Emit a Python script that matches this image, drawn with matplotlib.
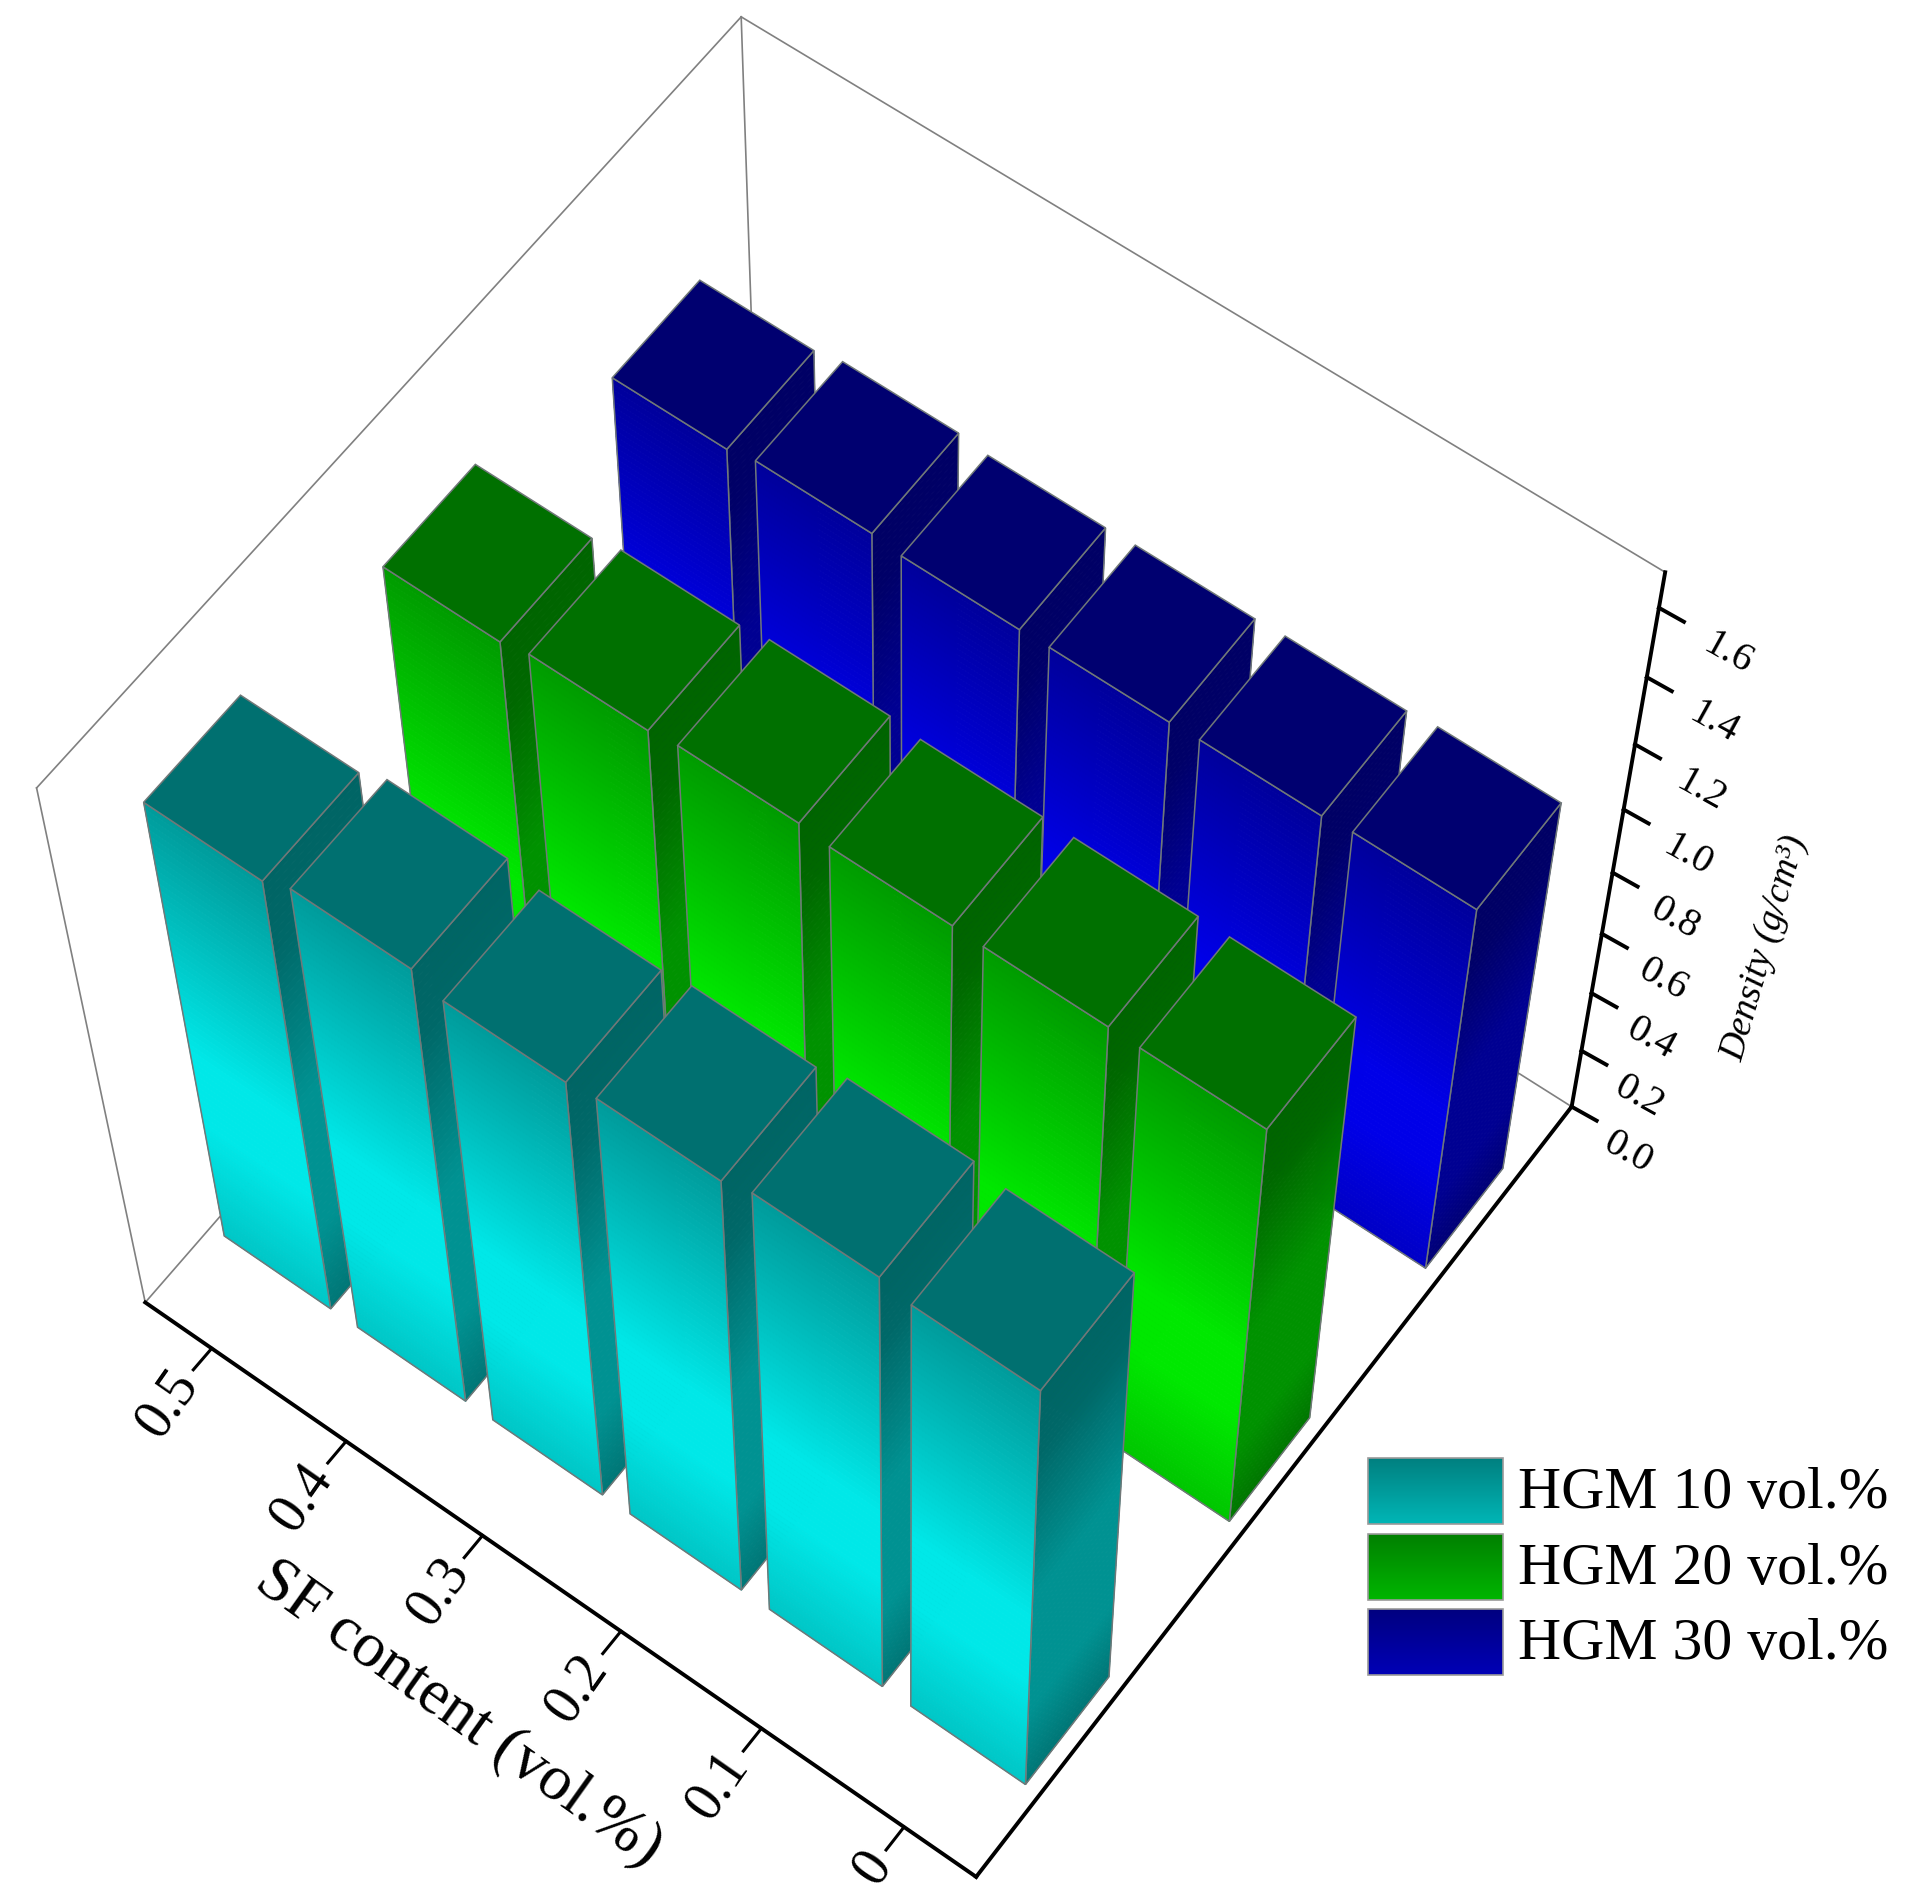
import numpy as np
import matplotlib
matplotlib.use("Agg")
import matplotlib.pyplot as plt
from matplotlib.collections import PolyCollection
from matplotlib.patches import Polygon

# chart values
sf_labels = ['0.5', '0.4', '0.3', '0.2', '0.1', '0']
hgm_labels = ['HGM 10 vol.%', 'HGM 20 vol.%', 'HGM 30 vol.%']
density_10 = [1.445, 1.482, 1.446, 1.460, 1.489, 1.468]
density_20 = [1.371, 1.391, 1.404, 1.392, 1.389, 1.387]
density_30 = [1.199, 1.218, 1.206, 1.209, 1.213, 1.222]
z_ticks = [0.0, 0.2, 0.4, 0.6, 0.8, 1.0, 1.2, 1.4, 1.6]

plt.rcParams['font.family'] = ['Liberation Serif', 'DejaVu Serif']

W, H = 1926, 1904
Z_MAX = 1.7
HALF_X = 0.40
HALF_Y = 0.2025
ROW_SHIFT = 0.0075

# frame corners of the 3D box on the canvas, used to fit the camera
box = [((0, 0, 0), (146, 1304)), ((1, 0, 0), (975, 1877)), ((1, 1, 0), (1572, 1105)),
       ((0, 0, 1), (37, 786)), ((1, 1, 1), (1666, 574)), ((0, 1, 1), (740, 17))]
rows = []
for (a, b, c), (u, v) in box:
    rows.append([a, b, c, 1, 0, 0, 0, 0, -u * a, -u * b, -u * c, -u])
    rows.append([0, 0, 0, 0, a, b, c, 1, -v * a, -v * b, -v * c, -v])
cam = np.linalg.svd(np.array(rows, dtype=float))[2][-1].reshape(3, 4)


def project(x, y, z):
    # x in category units, y in row units, z in density
    p = cam @ np.array([(x + 0.5) / 6, y / 3, z / Z_MAX, 1.0])
    return p[0] / p[2], p[1] / p[2]


def strips(corners_of_z, z_top, stops, n=70):
    # gradient runs down the bar, so each face is cut into thin bands
    polys, cols = [], []
    ts = np.linspace(0, 1, n + 1)
    for t0, t1 in zip(ts[:-1], ts[1:]):
        za, zb = z_top * (1 - t0), z_top * (1 - t1)
        a, b = corners_of_z(za), corners_of_z(zb)
        polys.append([a[0], a[1], b[1], b[0]])
        t = (t0 + t1) / 2
        cols.append([np.interp(t, stops[0], [s[i] for s in stops[1]]) / 255 for i in range(3)])
    return PolyCollection(polys, facecolors=cols, edgecolors=cols, linewidths=0.6)


def draw_bar(ax, x, y, z, pal):
    x0, x1 = x - HALF_X, x + HALF_X
    y0, y1 = y - HALF_Y, y + HALF_Y
    front = lambda h: (project(x0, y0, h), project(x1, y0, h))
    side = lambda h: (project(x1, y0, h), project(x1, y1, h))
    edge = '#707878'
    ax.add_collection(strips(side, z, pal['side']))
    ax.add_patch(Polygon([project(x1, y0, z), project(x1, y1, z), project(x1, y1, 0), project(x1, y0, 0)],
                         fill=False, ec=edge, lw=1.1))
    ax.add_collection(strips(front, z, pal['front']))
    ax.add_patch(Polygon([project(x0, y0, z), project(x1, y0, z), project(x1, y0, 0), project(x0, y0, 0)],
                         fill=False, ec=edge, lw=1.1))
    ax.add_patch(Polygon([project(x0, y0, z), project(x1, y0, z), project(x1, y1, z), project(x0, y1, z)],
                         fc=pal['top'], ec=edge, lw=1.1))


def palette(on):
    # on is the channel mask of the hue
    def col(v):
        return tuple(v * c for c in on)
    return {'front': ([0, 0.55, 0.72, 1], [col(155), col(232), col(232), col(198)]),
            'side': ([0, 0.15, 0.5, 0.8, 1], [col(100), col(104), col(146), col(146), col(118)]),
            'top': tuple(112 * c / 255 for c in on)}


fig = plt.figure(figsize=(19.26, 19.04), dpi=100)
ax = fig.add_axes([0, 0, 1, 1])
ax.set_xlim(0, W)
ax.set_ylim(H, 0)
ax.axis('off')

# back frame
gray = '#808080'
for a, b in [((-0.5, 0, 0), (-0.5, 0, Z_MAX)), ((-0.5, 0, Z_MAX), (-0.5, 3, Z_MAX)),
             ((-0.5, 3, Z_MAX), (5.5, 3, Z_MAX)), ((-0.5, 3, Z_MAX), (-0.5, 3, 0)),
             ((-0.5, 3, 0), (-0.5, 0, 0)), ((-0.5, 3, 0), (5.5, 3, 0))]:
    pa, pb = project(*a), project(*b)
    ax.plot([pa[0], pb[0]], [pa[1], pb[1]], color=gray, lw=1.2, zorder=1)

# bars, far row first
palettes = [palette((0, 1, 1)), palette((0, 1, 0)), palette((0, 0, 1))]
series = [density_10, density_20, density_30]
for r in [2, 1, 0]:
    for i, val in enumerate(series[r]):
        draw_bar(ax, i, r + 0.5 + ROW_SHIFT, val, palettes[r])

# bold axes
for a, b in [((-0.5, 0, 0), (5.5, 0, 0)), ((5.5, 0, 0), (5.5, 3, 0)), ((5.5, 3, 0), (5.5, 3, Z_MAX))]:
    pa, pb = project(*a), project(*b)
    ax.plot([pa[0], pb[0]], [pa[1], pb[1]], color='black', lw=2.8, solid_capstyle='projecting')

for i, lab in enumerate(sf_labels):
    pa, pb = project(i, 0, 0), project(i, -0.085, 0)
    ax.plot([pa[0], pb[0]], [pa[1], pb[1]], color='black', lw=2.2)
    lx, ly = project(i, -0.13, 0)
    ax.text(lx + 4, ly - 6, lab, fontsize=40, rotation=55, ha='right', va='center', rotation_mode='anchor')

for tick in z_ticks:
    pa = project(5.5, 3, tick)
    ax.plot([pa[0], pa[0] + 25], [pa[1], pa[1] + 14], color='black', lw=2.8)
    ax.text(pa[0] + 56 + 8 * tick, pa[1] + 46, f'{tick:.1f}', fontsize=29, rotation=-29,
            ha='center', va='center', rotation_mode='anchor')

ax.text(459, 1714, 'SF content (vol.%)', fontsize=46, rotation=-35.5, ha='center', va='center', rotation_mode='anchor')
ax.text(1765, 948, 'Density (g/cm³)', fontsize=27, style='italic', rotation=74, ha='center', va='center', rotation_mode='anchor')

# legend
leg_tops = [1458, 1534, 1609]
leg_cols = [(0, 1, 1), (0, 1, 0), (0, 0, 1)]
for lab, top, on in zip(hgm_labels, leg_tops, leg_cols):
    grad = np.linspace(128, 182, 64)[:, None, None] * np.array(on)[None, None, :] / 255
    ax.imshow(grad, extent=(1368, 1503, top + 66, top), aspect='auto', zorder=3)
    ax.add_patch(Polygon([(1368, top), (1503, top), (1503, top + 66), (1368, top + 66)], fill=False, ec='#9a9a9a', lw=1.2, zorder=4))
    ax.text(1518, top + 36, lab, fontsize=43, ha='left', va='center')
ax.set_xlim(0, W)
ax.set_ylim(H, 0)

fig.savefig('out.png', dpi=100)
